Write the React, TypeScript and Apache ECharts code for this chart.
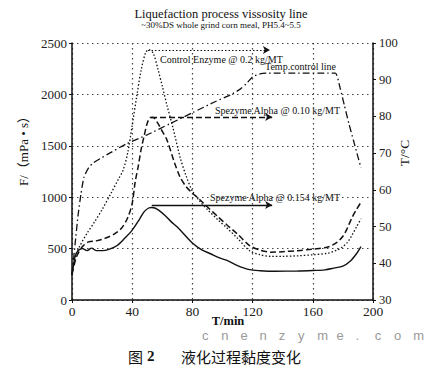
import React, { useEffect, useRef } from "react";
import * as echarts from "echarts";

// ---- data ----
const controlT = [0, 2, 5, 10, 15, 20, 26, 31, 34, 37, 40, 43, 46, 49, 51, 54, 57, 60, 63, 67, 72, 76, 80, 85, 90, 97, 103, 110, 118, 125, 132, 140, 150, 160, 170, 176, 180, 183, 186, 189, 192];
const controlV = [250, 420, 520, 650, 760, 880, 1040, 1180, 1265, 1430, 1700, 1980, 2240, 2410, 2435, 2400, 2250, 2080, 1900, 1680, 1380, 1200, 1060, 960, 880, 780, 700, 600, 480, 440, 425, 425, 430, 440, 455, 485, 520, 560, 630, 710, 790];

const alpha10T = [0, 3, 7, 11, 16, 22, 28, 33, 37, 40, 42, 44, 46, 48, 50, 52, 54, 57, 60, 63, 68, 72, 76, 80, 85, 90, 97, 103, 110, 118, 125, 132, 140, 150, 160, 170, 176, 180, 183, 186, 189, 192];
const alpha10V = [250, 420, 520, 565, 575, 600, 640, 700, 800, 940, 1150, 1300, 1470, 1600, 1720, 1775, 1775, 1720, 1640, 1560, 1340, 1190, 1100, 1040, 975, 905, 810, 730, 640, 530, 485, 465, 470, 480, 495, 515, 560, 620, 700, 800, 880, 950];

const alpha154T = [0, 2, 4, 7, 10, 13, 16, 20, 25, 30, 35, 40, 45, 48, 51, 53, 55, 58, 62, 66, 70, 80, 86, 92, 98, 103, 110, 118, 125, 135, 150, 160, 168, 174, 180, 185, 189, 192];
const alpha154V = [240, 420, 480, 500, 480, 505, 480, 480, 495, 530, 600, 680, 790, 860, 895, 900, 895, 870, 820, 760, 710, 554, 490, 450, 410, 385, 335, 295, 285, 280, 282, 287, 293, 310, 330, 380, 450, 520];

const tempT = [0, 2, 4, 6, 8, 11, 14, 20, 25, 36, 50, 65, 80, 95, 105, 112, 116, 120, 125, 130, 150, 170, 175, 178, 181, 184, 187, 190, 192];
const tempV = [37, 45, 53, 59, 63.5, 66, 67.3, 68.8, 70, 72.5, 75, 78, 81, 84, 85.8, 87.5, 89, 90.8, 91.6, 91.8, 91.8, 91.8, 91.8, 88, 83, 78, 73.5, 69, 66];

// arrows: [startT, endT, level]
const arrowControl = [50.5, 131.5, 2432];
const arrowAlpha10 = [52.5, 133, 1780];
const arrowAlpha154 = [53, 133, 925];

const xTicks = [0, 200, 40];
const yLeft = [0, 2500, 500];
const yRight = [30, 100, 10];

const pairs = (t: number[], v: number[]) => t.map((x, i) => [x, v[i]]);

const SERIF = '"Liberation Serif", "Times New Roman", serif';
const CJK = '"Noto Sans CJK SC", sans-serif';

export default function App() {
  const ref = useRef<HTMLDivElement>(null);
  useEffect(() => {
    document.body.style.margin = "0";
    const chart = echarts.init(ref.current!, null, { renderer: "svg" });
    const ink = "#111";
    const plain = (v: number) => String(v);
    const arrowLine = (a: number[], type: any, width: number) => ({
      silent: true,
      symbol: ["none", "arrow"],
      symbolSize: [6, 7],
      label: { show: false },
      lineStyle: { color: ink, type, width },
      data: [[{ coord: [a[0], a[2]] }, { coord: [a[1], a[2]] }]],
    });
    const txt = (text: string, x: number, y: number, font: string, extra: any = {}) => ({
      type: "text",
      x,
      y,
      silent: true,
      ...extra,
      style: { text, font, fill: extra.fill || "#111", align: extra.align || "left", verticalAlign: "middle" },
    });
    const wm = "cnenzyme.com".split("").map((c, i) =>
      txt(c, 202 + i * 19.2, 335, '13px "Liberation Sans", sans-serif', { fill: "#9a9a9a", align: "left" })
    );
    chart.setOption({
      animation: false,
      backgroundColor: "#fff",
      grid: { left: 72, right: 63, top: 43, bottom: 68, containLabel: false },
      xAxis: {
        type: "value",
        min: xTicks[0],
        max: xTicks[1],
        interval: xTicks[2],
        axisLine: { show: true, lineStyle: { color: ink, width: 1.5 } },
        axisTick: { show: true, length: 3, lineStyle: { color: ink } },
        axisLabel: { fontFamily: SERIF, fontSize: 13.5, color: "#222", margin: 4, formatter: plain },
        splitLine: { show: true, lineStyle: { color: "#444", type: [1.5, 3.5], width: 1.2 } },
      },
      yAxis: [
        {
          type: "value",
          min: yLeft[0],
          max: yLeft[1],
          interval: yLeft[2],
          axisLine: { show: true, lineStyle: { color: ink, width: 1.5 } },
          axisTick: { show: true, length: 3, lineStyle: { color: ink } },
          axisLabel: { fontFamily: SERIF, fontSize: 13, color: "#222", margin: 5, formatter: plain },
          splitLine: { show: true, lineStyle: { color: "#444", type: [1.5, 3.5], width: 1.2 } },
        },
        {
          type: "value",
          position: "right",
          min: yRight[0],
          max: yRight[1],
          interval: yRight[2],
          axisLine: { show: true, lineStyle: { color: ink, width: 1.5 } },
          axisTick: { show: true, length: 3, lineStyle: { color: ink } },
          axisLabel: { fontFamily: SERIF, fontSize: 12.5, color: "#222", margin: 6, formatter: plain },
          splitLine: { show: false },
        },
      ],
      series: [
        {
          name: "Control Enzyme",
          type: "line",
          data: pairs(controlT, controlV),
          smooth: 0.3,
          showSymbol: false,
          lineStyle: { color: ink, width: 1.3, type: [1.5, 2] },
          markLine: arrowLine(arrowControl, [1.5, 2], 1.2),
        },
        {
          name: "Spezyme Alpha 0.10",
          type: "line",
          data: pairs(alpha10T, alpha10V),
          smooth: 0.3,
          showSymbol: false,
          lineStyle: { color: ink, width: 1.5, type: [6, 3] },
          markLine: arrowLine(arrowAlpha10, [6, 3], 1.4),
        },
        {
          name: "Spezyme Alpha 0.154",
          type: "line",
          data: pairs(alpha154T, alpha154V),
          smooth: 0.3,
          showSymbol: false,
          lineStyle: { color: ink, width: 1.4, type: "solid" },
          markLine: arrowLine(arrowAlpha154, "solid", 1.4),
        },
        {
          name: "Temp",
          type: "line",
          yAxisIndex: 1,
          data: pairs(tempT, tempV),
          smooth: 0.2,
          showSymbol: false,
          lineStyle: { color: ink, width: 1.3, type: [7, 3, 1.5, 3] },
        },
      ],
      graphic: [
        txt("Liquefaction process vissosity line", 221, 14, `12.5px ${SERIF}`, { align: "center" }),
        txt("~30%DS whole grind corn meal, PH5.4~5.5", 221, 25, `9px ${SERIF}`, { align: "center" }),
        txt("F/（mPa • s）", 23, 148, `13px ${SERIF}, ${CJK}`, { align: "center", rotation: Math.PI / 2 }),
        txt("T/°C", 404, 153, `13.5px ${SERIF}`, { align: "center", rotation: Math.PI / 2 }),
        txt("T/min", 228, 321, `bold 12.5px ${SERIF}`, { align: "center" }),
        txt("Control Enzyme @ 0.2 kg/MT", 160, 59, `10px ${SERIF}`),
        txt("Temp.control line", 265, 66, `10px ${SERIF}`),
        txt("Spezyme Alpha @ 0.10 kg/MT", 215, 110, `10px ${SERIF}`),
        txt("Spezyme Alpha @ 0.154 kg/MT", 210, 197, `10px ${SERIF}`),
        ...wm,
        txt("图", 128, 356, `15px ${CJK}`),
        txt("2", 147, 356, `bold 15px ${SERIF}`),
        txt("液化过程黏度变化", 241, 356, `15px ${CJK}`, { align: "center" }),
      ],
    });
    return () => chart.dispose();
  }, []);
  return <div ref={ref} style={{ position: "absolute", left: 0, top: 0, width: 436, height: 368 }} />;
}
